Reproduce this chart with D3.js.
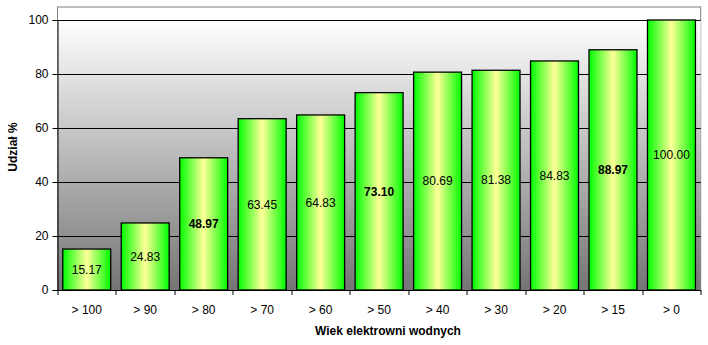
<!DOCTYPE html>
<html>
<head>
<meta charset="utf-8">
<script src="https://cdn.jsdelivr.net/npm/d3@7"></script>
<style>
  body { margin: 0; background: #fff; }
  text { font-family: Arial, "Liberation Sans", sans-serif; }
</style>
</head>
<body>
<div id="chart"></div>
<script>
// data
const categories = ["> 100", "> 90", "> 80", "> 70", "> 60", "> 50", "> 40", "> 30", "> 20", "> 15", "> 0"];
const values = [15.17, 24.83, 48.97, 63.45, 64.83, 73.10, 80.69, 81.38, 84.83, 88.97, 100.00];
const boldLabels = ["> 80", "> 50", "> 15"];
const yTicks = [0, 20, 40, 60, 80, 100];

const W = 708, H = 345;
const margin = { top: 20, right: 7.3, bottom: 55, left: 57.5 };
const width = W - margin.left - margin.right;
const height = H - margin.top - margin.bottom;

const svg = d3.select("#chart").append("svg")
  .attr("width", W)
  .attr("height", H);

const defs = svg.append("defs");

// plot background: white to grey
const bgGrad = defs.append("linearGradient")
  .attr("id", "bgGrad")
  .attr("x1", "0%").attr("y1", "0%")
  .attr("x2", "0%").attr("y2", "100%");
bgGrad.append("stop").attr("offset", "0%").style("stop-color", "#ffffff");
bgGrad.append("stop").attr("offset", "100%").style("stop-color", "#757575");

// bar fill: green - pale yellow - green
const barGrad = defs.append("linearGradient")
  .attr("id", "barGrad")
  .attr("x1", "0%").attr("y1", "0%")
  .attr("x2", "100%").attr("y2", "0%");
barGrad.append("stop").attr("offset", "0%").style("stop-color", "#00ff00");
barGrad.append("stop").attr("offset", "50%").style("stop-color", "#ffff99");
barGrad.append("stop").attr("offset", "100%").style("stop-color", "#00ff00");

const g = svg.append("g")
  .attr("transform", "translate(" + margin.left + "," + margin.top + ")");

const x = d3.scaleBand()
  .domain(categories)
  .range([0, width])
  .paddingInner(0.18)
  .paddingOuter(0.09);

const y = d3.scaleLinear()
  .domain([0, 100])
  .range([height, 0]);

// white band above 100 with grey frame
g.append("rect")
  .attr("x", 0).attr("y", -13)
  .attr("width", width).attr("height", height + 13)
  .attr("fill", "#fff")
  .attr("stroke", "#808080")
  .attr("stroke-width", 1);

g.append("rect")
  .attr("x", 0).attr("y", y(100))
  .attr("width", width).attr("height", y(0) - y(100))
  .attr("fill", "url(#bgGrad)");

// gridlines
g.selectAll(".grid")
  .data(yTicks.filter(d => d > 0))
  .join("line")
  .attr("class", "grid")
  .attr("x1", 0).attr("x2", width)
  .attr("y1", d => Math.round(y(d)) + 0.5)
  .attr("y2", d => Math.round(y(d)) + 0.5)
  .attr("stroke", "#000")
  .attr("stroke-width", 1);

// bars
g.selectAll(".bar")
  .data(values)
  .join("rect")
  .attr("class", "bar")
  .attr("x", (d, i) => x(categories[i]))
  .attr("y", d => y(d))
  .attr("width", x.bandwidth())
  .attr("height", d => y(0) - y(d))
  .attr("fill", "url(#barGrad)")
  .attr("stroke", "#000")
  .attr("stroke-width", 1.3);

// value labels
g.selectAll(".val")
  .data(values)
  .join("text")
  .attr("class", "val")
  .attr("x", (d, i) => x(categories[i]) + x.bandwidth() / 2)
  .attr("y", d => (y(d) + y(0)) / 2)
  .attr("dy", "0.35em")
  .attr("text-anchor", "middle")
  .style("font-size", "12px")
  .style("font-weight", (d, i) => boldLabels.includes(categories[i]) ? "bold" : "normal")
  .text(d => d.toFixed(2));

// y axis
const yAxis = g.append("g")
  .call(d3.axisLeft(y).tickValues(yTicks).tickSize(5).tickPadding(4));
yAxis.select(".domain").attr("stroke", "#000");
yAxis.selectAll("text")
  .style("font-size", "12px")
  .style("font-family", "Arial, 'Liberation Sans', sans-serif")
  .attr("fill", "#000");

// x axis with ticks between categories
const xAxis = g.append("g")
  .attr("transform", "translate(0," + height + ")");
xAxis.append("line")
  .attr("x1", 0).attr("x2", width)
  .attr("y1", 0.5).attr("y2", 0.5)
  .attr("stroke", "#000");
const step = width / categories.length;
xAxis.selectAll(".xt")
  .data(d3.range(categories.length + 1))
  .join("line")
  .attr("class", "xt")
  .attr("x1", d => Math.round(d * step) + 0.5)
  .attr("x2", d => Math.round(d * step) + 0.5)
  .attr("y1", 0).attr("y2", 5)
  .attr("stroke", "#000");
xAxis.selectAll(".xl")
  .data(categories)
  .join("text")
  .attr("class", "xl")
  .attr("x", d => x(d) + x.bandwidth() / 2)
  .attr("y", 24)
  .attr("text-anchor", "middle")
  .style("font-size", "12px")
  .text(d => d);

// axis titles
svg.append("text")
  .attr("x", 388)
  .attr("y", 335)
  .attr("text-anchor", "middle")
  .style("font-size", "12px")
  .style("font-weight", "bold")
  .text("Wiek elektrowni wodnych");

svg.append("text")
  .attr("transform", "translate(17,147) rotate(-90)")
  .attr("text-anchor", "middle")
  .style("font-size", "12px")
  .style("font-weight", "bold")
  .text("Udział %");
</script>
</body>
</html>
